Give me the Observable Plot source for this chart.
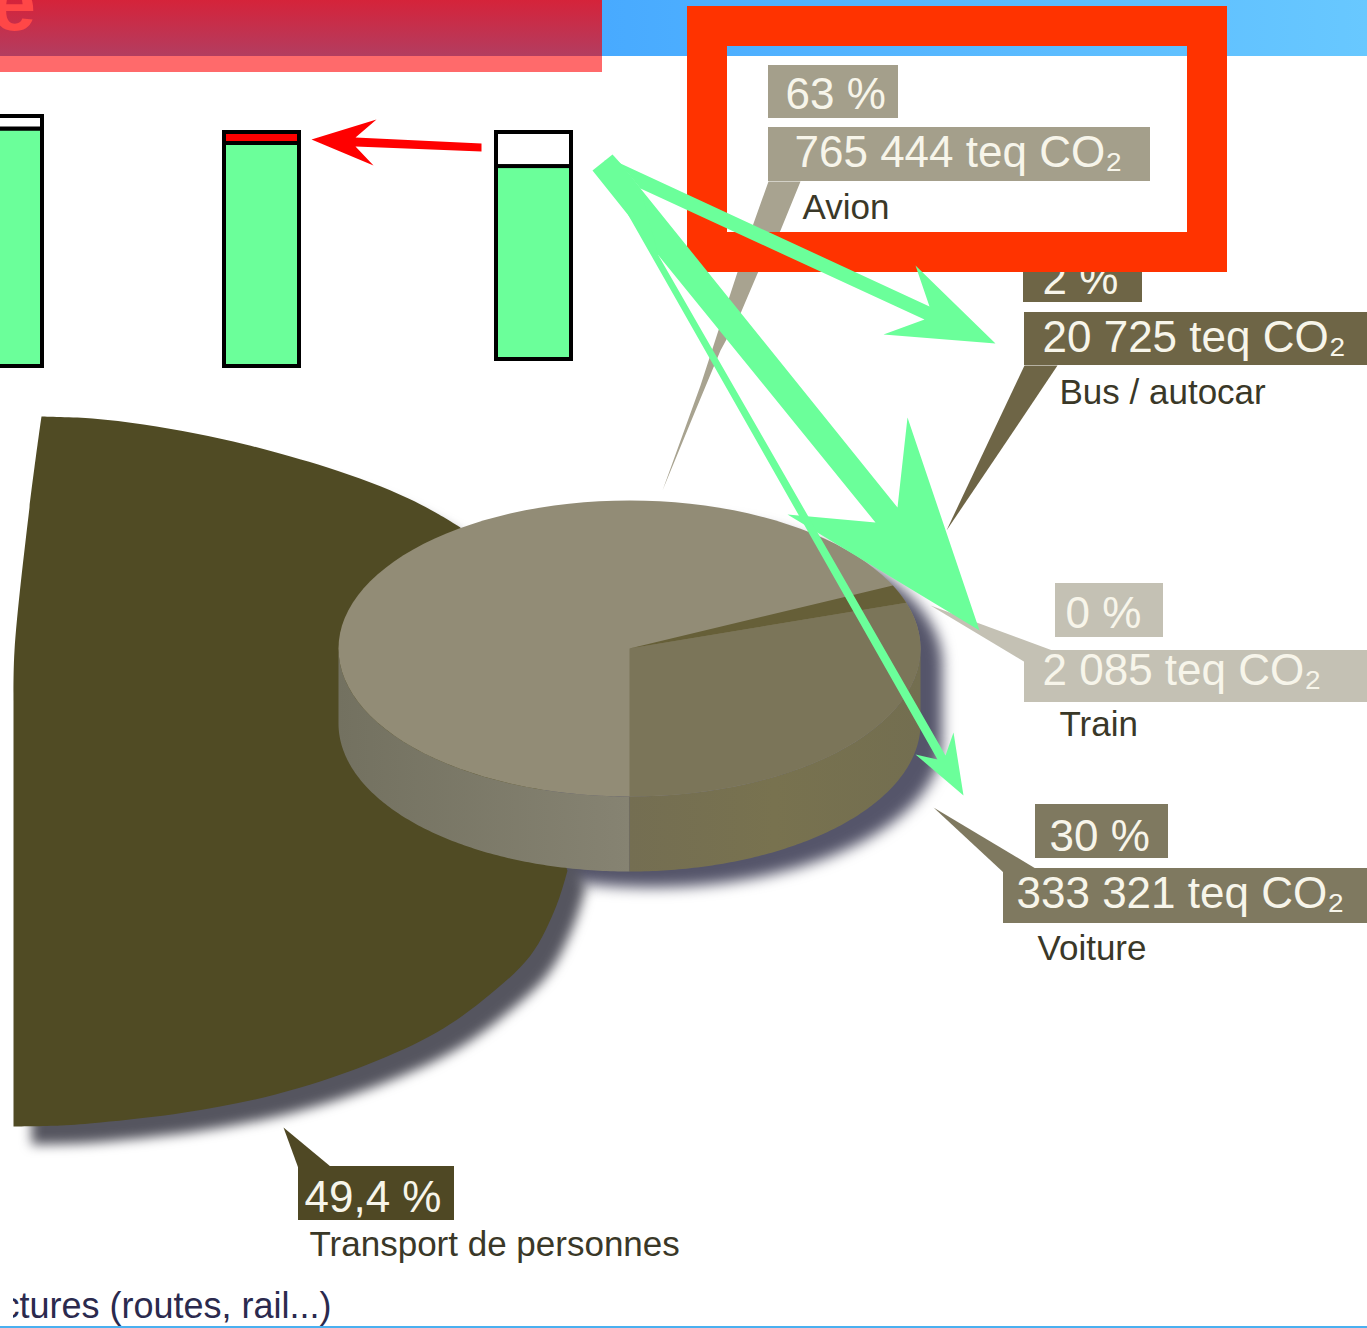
<!DOCTYPE html>
<html><head><meta charset="utf-8">
<script src="https://cdn.jsdelivr.net/npm/d3@7"></script>
<script src="https://cdn.jsdelivr.net/npm/@observablehq/plot@0.6"></script>
<style>html,body{margin:0;padding:0;background:#fff;overflow:hidden}svg{display:block;overflow:hidden}</style>
</head><body><div id="chart"></div>
<script>
// --- values ---
const categories = ["Avion", "Bus / autocar", "Train", "Voiture"];
const percents = ["63 %", "2 %", "0 %", "30 %"];
const emissions = ["765 444 teq CO₂", "20 725 teq CO₂", "2 085 teq CO₂", "333 321 teq CO₂"];
const sliceShares = [63, 2, 0, 30];
const transportPercent = "49,4 %";
const transportLabel = "Transport de personnes";
const cutLabel = "ctures (routes, rail...)";
const barGreenShares = [0.95, 0.953, 0.85];
const barTopFills = ["#ffffff", "#ff0000", "#ffffff"];

// --- layout ---
const W = 1367, H = 1328;
const green = "#6bff9a", frameRed = "#ff3300";
const cx = 629, cy = 648, rx = 291, ry = 148, depth = 75;
const pt = (deg, dy = 0) => [cx + rx * Math.sin(deg * Math.PI / 180), cy + dy - ry * Math.cos(deg * Math.PI / 180)];
const arc = (a, b, dy = 0) => d3.range(0, 121).map(i => pt(a + (b - a) * i / 120, dy));

const fx = d => d[0], fy = d => d[1];
const shape = (pts, fill, extra = {}) => Plot.line(pts, {x: fx, y: fy, fill, stroke: "none", ...extra});
const shift = (pts, dx, dy) => pts.map(([x, y]) => [x + dx, y + dy]);

// corners are doubled so the smooth curve stays sharp there
const bigSlice = [[41,416],[41,416],[92,418],[143,424],[195,433],[245,444],[290,456],[327,467],[370,482],[408,498],[435,512],[460,527],[460,527],
  [567,870],[567,870],[556,905],[530,955],[482,1000],[436,1032],[367,1064],[275,1094],[184,1112],[100,1122],[60,1125],[13,1126],[13,1126],[13,700],[13,700],[14,650],[29,507],[41,416]];

// pie: the Voiture slice starts straight down, Bus follows, Avion fills the rest
const voitureEnd = 180 - sliceShares[3] * 3.6;
const busEnd = voitureEnd - sliceShares[1] * 3.6;
const fullTop = arc(0, 360);
const voitureTop = [[cx, cy], ...arc(voitureEnd, 180)];
const busTop = [[cx, cy], ...arc(busEnd, voitureEnd)];
const sideLeft = [...arc(270, 180, depth), ...arc(180, 270)];
const sideRight = [...arc(90, 180, depth), ...arc(180, 90)];
const pieOutline = [...arc(90, 270, depth), ...arc(270, 450)];

// arrows
const redArrow = [[481,143],[355,137],[376,119],[311,139],[373,165],[355,146],[481,151]];
const arrowBus = [[612,154],[620,163],[929,306],[915,265],[995,343],[883,334],[924,319],[640,188]];
const arrowTrain = [[604,160],[620,163],[640,188],[897,507],[907,417],[979,630],[787,514],[875,522],[658,255],[628,215]];
const arrowVoiture = [[592,170],[612,154],[620,163],[640,188],[658,255],[945,755],[953,732],[963,795],[915,754],[937,759],[628,215]];

// label boxes
const boxes = [
  {x1:768,x2:898,y1:65,y2:118,fill:"#a49f8b"},{x1:768,x2:1150,y1:127,y2:181,fill:"#a49f8b"},
  {x1:1023,x2:1142,y1:250,y2:302,fill:"#6e6546"},{x1:1024,x2:1367,y1:312,y2:365,fill:"#6e6546"},
  {x1:1055,x2:1163,y1:583,y2:637,fill:"#c4c1b4"},{x1:1024,x2:1367,y1:650,y2:702,fill:"#c4c1b4"},
  {x1:1035,x2:1168,y1:804,y2:858,fill:"#7f7960"},{x1:1003,x2:1367,y1:868,y2:923,fill:"#7f7960"},
  {x1:298,x2:454,y1:1166,y2:1220,fill:"#4f4824"}
];
const pointers = [
  {pts:[[768,181],[800,181],[780,230],[757,273],[740,313],[720,350],[695,410],[662,490],[700,385],[730,293],[753,223]],fill:"#a8a390"},
  {pts:[[1024,365],[1057,365],[1000,450],[946,530]],fill:"#6e6546"},
  {pts:[[1052,650],[1025,662],[930,605]],fill:"#c4c1b4"},
  {pts:[[933,807],[1035,868],[1003,872]],fill:"#7f7960"},
  {pts:[[283,1127],[330,1166],[298,1168]],fill:"#4f4824"}
];

const light = "#f7f5ea";
const boxTexts = [
  {t:percents[0],x:785,y:108},{t:emissions[0],x:794,y:166},
  {t:percents[1],x:1042,y:293},{t:emissions[1],x:1042,y:351},
  {t:percents[2],x:1065,y:627},{t:emissions[2],x:1042,y:684},
  {t:percents[3],x:1049,y:850},{t:emissions[3],x:1016,y:907},
  {t:transportPercent,x:304,y:1211}
];
const darkTexts = [
  {t:categories[0],x:802,y:218},{t:categories[1],x:1059,y:403},
  {t:categories[2],x:1059,y:735},{t:categories[3],x:1037,y:959},
  {t:transportLabel,x:309,y:1255}
];

// bars
const barLayout = [{x1:-10,x2:42,top:116,bottom:366},{x1:224,x2:299,top:132,bottom:366},{x1:496,x2:571,top:132,bottom:359}];
const bars = barLayout.map((b, i) => ({...b, split: b.bottom - barGreenShares[i] * (b.bottom - b.top), topFill: barTopFills[i]}));

const defs = () => {
  const d = d3.create("svg:defs");
  const grad = (id, horizontal, stops) => {
    const g = d.append("linearGradient").attr("id", id).attr("x1", 0).attr("y1", 0).attr("x2", horizontal ? 1 : 0).attr("y2", horizontal ? 0 : 1);
    stops.forEach((c, i) => g.append("stop").attr("offset", i / (stops.length - 1)).attr("stop-color", c));
  };
  grad("hdrRed", false, ["#d5233a", "#b33d60"]);
  grad("hdrBlue", true, ["#48aaff", "#68c8ff"]);
  grad("sideL", true, ["#737160", "#868372"]);
  grad("sideR", true, ["#746e52", "#78724f", "#736e50"]);
  return d.node();
};

const textOpts = {x:"x", y:"y", text:"t", textAnchor:"start", lineAnchor:"bottom", fontFamily:"Liberation Sans, Arial, sans-serif"};

const plot = Plot.plot({
  width: W, height: H, margin: 0, marginTop: 0, marginRight: 0, marginBottom: 0, marginLeft: 0,
  x: {domain: [0, W], range: [0, W], axis: null},
  y: {domain: [0, H], range: [0, H], axis: null},
  style: {background: "#ffffff"},
  marks: [
    defs,
    // header bands
    Plot.rect([{x1:0,x2:602,y1:0,y2:56}], {x1:"x1",x2:"x2",y1:"y1",y2:"y2",fill:"url(#hdrRed)"}),
    Plot.rect([{x1:0,x2:602,y1:56,y2:72}], {x1:"x1",x2:"x2",y1:"y1",y2:"y2",fill:"#ff6a6b"}),
    Plot.rect([{x1:602,x2:W,y1:0,y2:56}], {x1:"x1",x2:"x2",y1:"y1",y2:"y2",fill:"url(#hdrBlue)"}),
    Plot.text([{t:"e",x:-9,y:29}], {...textOpts, fontSize:80, fontWeight:"bold", fill:"#ff4747"}),
    // stacked bars
    Plot.rect(bars, {x1:"x1",x2:"x2",y1:"split",y2:"bottom",fill:green,stroke:"#000",strokeWidth:4}),
    Plot.rect(bars, {x1:"x1",x2:"x2",y1:"top",y2:"split",fill:"topFill",stroke:"#000",strokeWidth:4}),
    shape(redArrow, "#ff0000"),
    // shadows
    shape(shift(pieOutline, 22, 16), "#55556a", {imageFilter:"blur(7px)"}),
    shape(shift(bigSlice, 18, 18), "#55555f", {curve:"catmull-rom", imageFilter:"blur(6px)"}),
    // exploded slice
    shape(bigSlice, "#504b24", {curve:"catmull-rom"}),
    // 3D pie
    shape(sideLeft, "url(#sideL)"),
    shape(sideRight, "url(#sideR)"),
    shape(fullTop, "#928c76"),
    shape(voitureTop, "#7b7559"),
    shape(busTop, "#665f38"),
    // leaders + boxes
    ...pointers.map(p => shape(p.pts, p.fill)),
    Plot.rect(boxes, {x1:"x1",x2:"x2",y1:"y1",y2:"y2",fill:"fill"}),
    Plot.text(boxTexts, {...textOpts, fontSize:44, fill:light}),
    Plot.text(darkTexts, {...textOpts, fontSize:35, fill:"#3a3828", letterSpacing:-0.5}),
    Plot.text([{t:cutLabel,x:1,y:1317}], {...textOpts, fontSize:36, fill:"#2b2a4e"}),
    Plot.rect([{x1:0,x2:13,y1:1270,y2:1326}], {x1:"x1",x2:"x2",y1:"y1",y2:"y2",fill:"#ffffff"}),
    Plot.rect([{x1:0,x2:W,y1:1326,y2:H}], {x1:"x1",x2:"x2",y1:"y1",y2:"y2",fill:"#4ab0f0"}),
    // overlay frame + arrows
    Plot.rect([{x1:707,x2:1207,y1:26,y2:252}], {x1:"x1",x2:"x2",y1:"y1",y2:"y2",fill:"none",stroke:frameRed,strokeWidth:40}),
    shape(arrowBus, green),
    shape(arrowTrain, green),
    shape(arrowVoiture, green)
  ]
});
document.getElementById("chart").append(plot);
</script></body></html>
